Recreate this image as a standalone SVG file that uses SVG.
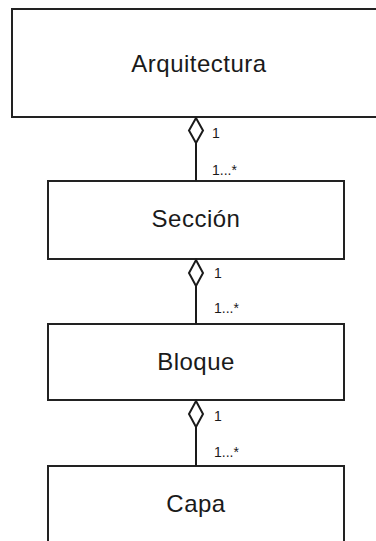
<svg xmlns="http://www.w3.org/2000/svg" width="376" height="541" viewBox="0 0 376 541">
<style>
.box{fill:#fff;stroke:#222;stroke-width:2}
.lbl{font-family:"Liberation Sans",Arial,sans-serif;font-size:24px;letter-spacing:0.5px;fill:#1a1a1a;text-anchor:middle}
.m{font-family:"Liberation Sans",Arial,sans-serif;font-size:14px;fill:#1a1a1a}
.ln{stroke:#1a1a1a;stroke-width:2;fill:none}
.dia{fill:#fff;stroke:#1a1a1a;stroke-width:2}
</style>
<rect width="376" height="541" fill="#fff"/>
<g id="arquitectura">
<rect class="box" x="12" y="9" width="376" height="108"/>
<text class="lbl" x="199" y="72">Arquitectura</text>
</g>
<g id="seccion">
<rect class="box" x="48" y="181" width="296" height="78"/>
<text class="lbl" x="196" y="227">Sección</text>
</g>
<g id="bloque">
<rect class="box" x="48" y="324" width="296" height="76"/>
<text class="lbl" x="196" y="370">Bloque</text>
</g>
<g id="capa">
<rect class="box" x="48" y="466" width="296" height="80"/>
<text class="lbl" x="196" y="512">Capa</text>
</g>
<g id="connectors">
<line class="ln" x1="196" y1="143" x2="196" y2="181"/>
<path class="dia" d="M196 118 L203 130.5 L196 143 L189 130.5 Z"/>
<text class="m" x="212" y="138">1</text>
<text class="m" x="212" y="175">1...*</text>
<line class="ln" x1="196" y1="286" x2="196" y2="324"/>
<path class="dia" d="M196 260 L203 273 L196 286 L189 273 Z"/>
<text class="m" x="214" y="278">1</text>
<text class="m" x="214" y="313">1...*</text>
<line class="ln" x1="196" y1="427" x2="196" y2="466"/>
<path class="dia" d="M196 401 L203 414 L196 427 L189 414 Z"/>
<text class="m" x="214" y="421">1</text>
<text class="m" x="214" y="457">1...*</text>
</g>
</svg>
